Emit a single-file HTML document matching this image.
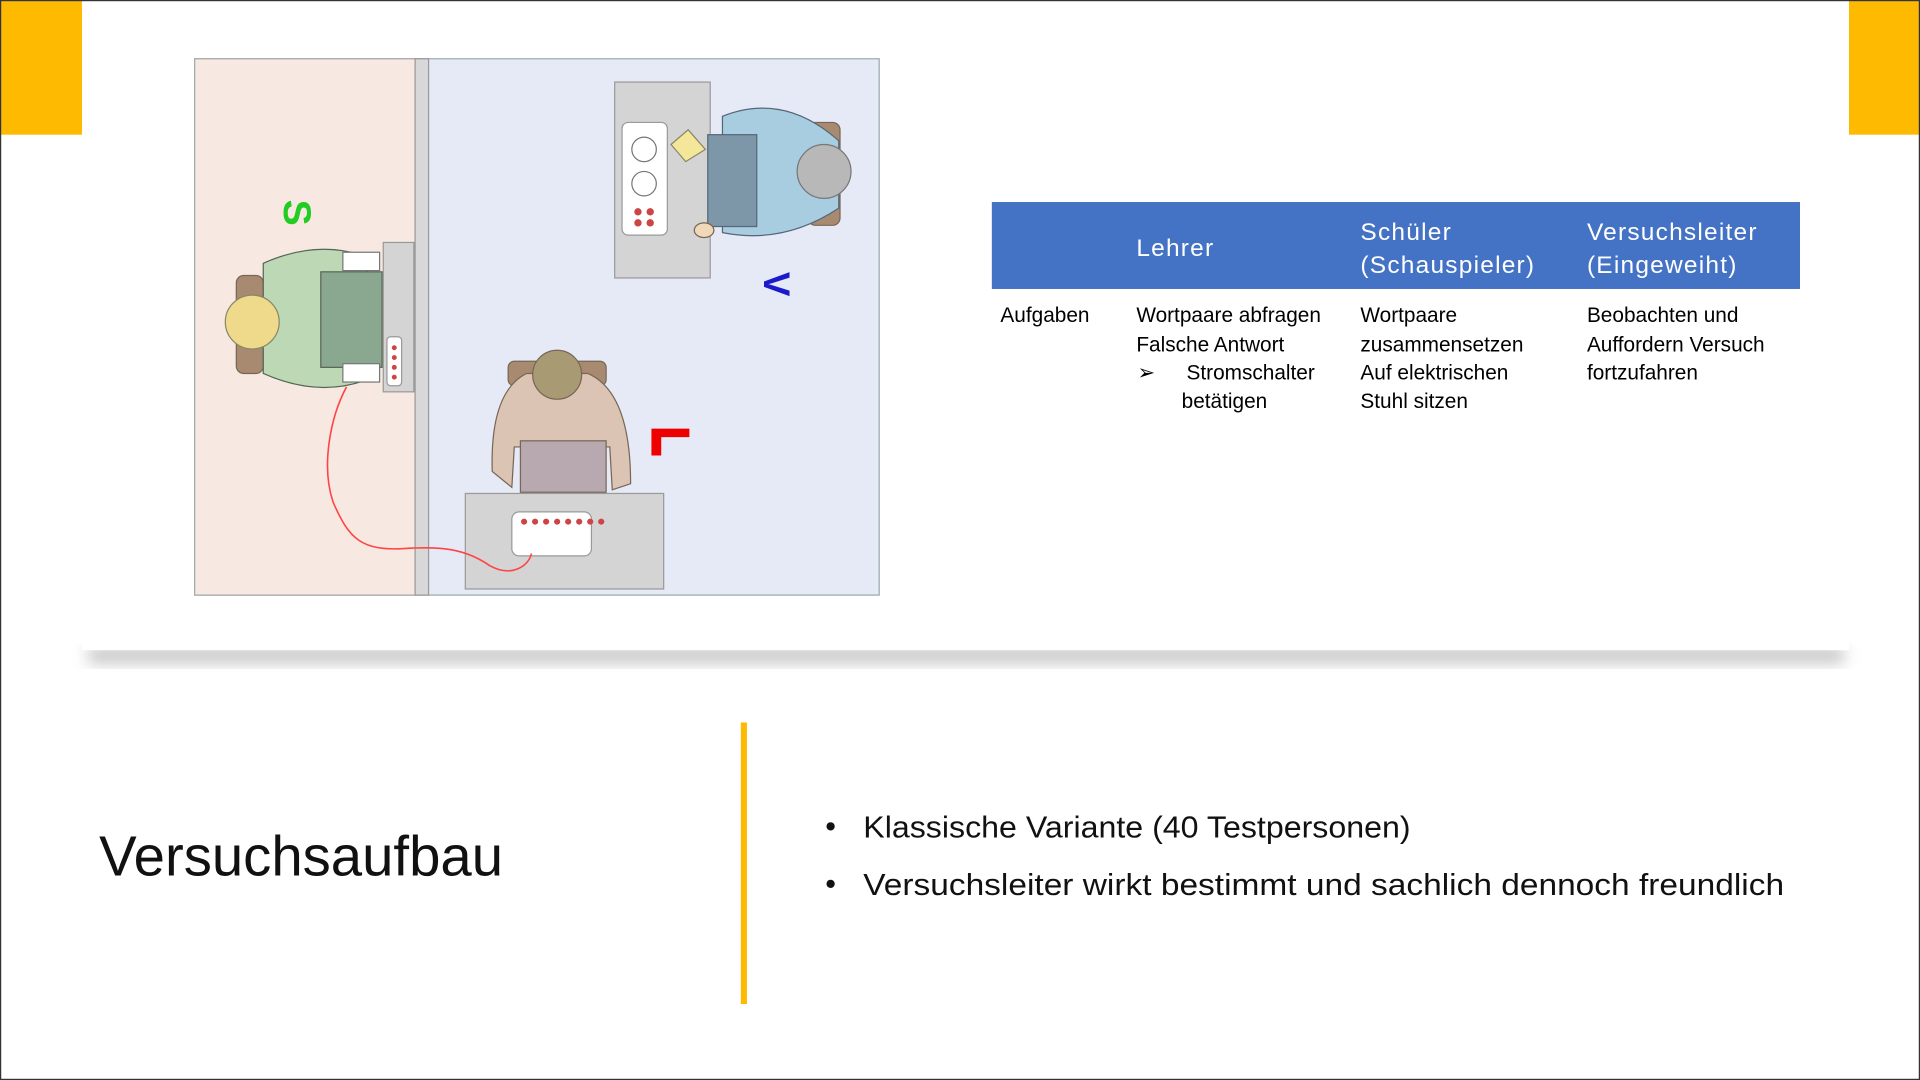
<!DOCTYPE html>
<html><head><meta charset="utf-8"><style>
html,body{margin:0;padding:0;background:#fff;}
svg{display:block;}
text{font-family:"Liberation Sans",sans-serif;}
</style></head><body>
<svg width="1920" height="1080" viewBox="0 0 1568 882" xmlns="http://www.w3.org/2000/svg">
<defs>
<filter id="sh" x="-5%" y="-20%" width="110%" height="150%"><feGaussianBlur stdDeviation="6"/></filter>
</defs>
<rect x="0" y="0" width="1568" height="882" fill="#fff"/>
<rect x="0" y="0" width="67" height="110" fill="#FDBA00"/>
<rect x="1510" y="0" width="58" height="110" fill="#FDBA00"/>
<rect x="72" y="528" width="1434" height="14" fill="#c8c8c8" filter="url(#sh)"/>
<rect x="67" y="0" width="1443" height="531" fill="#fff"/>
<rect x="0.5" y="0.5" width="1567" height="881" fill="none" stroke="#333" stroke-width="1"/>

<!-- illustration -->
<rect x="159" y="48" width="559" height="438" fill="#e6eaf7" stroke="#9aa" stroke-width="1"/>
<rect x="159" y="48" width="180" height="438" fill="#f7e9e2" stroke="#aaa" stroke-width="1"/>
<rect x="339" y="48" width="11" height="438" fill="#d8d8d8" stroke="#999" stroke-width="1"/>
<!-- V desk -->
<rect x="502" y="67" width="78" height="160" fill="#d4d4d4" stroke="#999"/>
<rect x="508" y="100" width="37" height="92" rx="5" fill="#fff" stroke="#999"/>
<circle cx="526" cy="122" r="10" fill="#fff" stroke="#777"/>
<circle cx="526" cy="150" r="10" fill="#fff" stroke="#777"/>
<circle cx="521" cy="173" r="3" fill="#c44"/><circle cx="531" cy="173" r="3" fill="#c44"/>
<circle cx="521" cy="182" r="3" fill="#c44"/><circle cx="531" cy="182" r="3" fill="#c44"/>
<!-- V person -->
<rect x="660" y="100" width="26" height="84" rx="6" fill="#a88a70" stroke="#765"/>
<path d="M590 95 Q640 75 685 115 L685 170 Q640 200 590 190 Z" fill="#a8cce0" stroke="#567"/>
<rect x="578" y="110" width="40" height="75" fill="#7d97a8" stroke="#567"/>
<circle cx="673" cy="140" r="22" fill="#b8b8b8" stroke="#777"/>
<polygon points="548,118 562,106 576,122 560,132" fill="#f5e79a" stroke="#886"/>
<ellipse cx="575" cy="188" rx="8" ry="6" fill="#f0d8b8" stroke="#765"/>
<text x="0" y="0" font-size="30" font-weight="bold" fill="#1a1acc" transform="translate(624,222) rotate(90)">V</text>
<!-- S desk -->
<rect x="313" y="198" width="25" height="122" fill="#d4d4d4" stroke="#999"/>
<rect x="316" y="275" width="12" height="40" rx="3" fill="#fff" stroke="#999"/>
<circle cx="322" cy="284" r="2" fill="#c44"/><circle cx="322" cy="292" r="2" fill="#c44"/><circle cx="322" cy="300" r="2" fill="#c44"/><circle cx="322" cy="308" r="2" fill="#c44"/>
<!-- S person -->
<rect x="193" y="225" width="22" height="80" rx="6" fill="#a88a70" stroke="#765"/>
<path d="M215 215 Q260 195 300 210 L300 310 Q260 325 215 305 Z" fill="#bcd8b4" stroke="#565"/>
<rect x="262" y="222" width="50" height="78" fill="#8aa890" stroke="#565"/>
<rect x="280" y="206" width="30" height="15" fill="#fff" stroke="#777"/>
<rect x="280" y="297" width="30" height="15" fill="#fff" stroke="#777"/>
<circle cx="206" cy="263" r="22" fill="#efd98a" stroke="#886"/>
<text x="0" y="0" font-size="32" font-weight="bold" fill="#22cc22" transform="translate(232,163) rotate(90)">S</text>
<!-- L desk -->
<rect x="380" y="403" width="162" height="78" fill="#d4d4d4" stroke="#999"/>
<rect x="418" y="418" width="65" height="36" rx="6" fill="#fff" stroke="#999"/>
<g fill="#c44"><circle cx="428" cy="426" r="2.5"/><circle cx="437" cy="426" r="2.5"/><circle cx="446" cy="426" r="2.5"/><circle cx="455" cy="426" r="2.5"/><circle cx="464" cy="426" r="2.5"/><circle cx="473" cy="426" r="2.5"/><circle cx="482" cy="426" r="2.5"/><circle cx="491" cy="426" r="2.5"/></g>
<!-- L person -->
<rect x="415" y="295" width="80" height="20" rx="5" fill="#a88a70" stroke="#765"/>
<path d="M402 385 Q400 320 430 305 L480 305 Q515 320 515 395 L500 400 L498 365 L420 365 L418 398 Z" fill="#dcc4b4" stroke="#765"/>
<rect x="425" y="360" width="70" height="42" fill="#b8a8b0" stroke="#765"/>
<circle cx="455" cy="306" r="20" fill="#a89a72" stroke="#765"/>
<path d="M532 350 L563 350 L563 357 L540 357 L540 372 L532 372 Z" fill="#e00"/>
<!-- wire -->
<path d="M283 316 C270 340 262 380 272 410 C285 440 295 450 330 448 C360 446 380 448 400 462 C418 472 432 462 434 452" fill="none" stroke="#f44" stroke-width="1.3"/>

<!-- table -->
<rect x="810" y="165" width="660" height="71" fill="#4472C4"/>
<g fill="#fff" font-size="20" letter-spacing="1">
<text x="928" y="209">Lehrer</text>
<text x="1111" y="196">Schüler</text><text x="1111" y="223">(Schauspieler)</text>
<text x="1296" y="196">Versuchsleiter</text><text x="1296" y="223">(Eingeweiht)</text>
</g>
<g fill="#000" font-size="17">
<text x="817" y="263">Aufgaben</text>
<text x="928" y="263">Wortpaare abfragen</text>
<text x="928" y="287">Falsche Antwort</text>
<text x="929" y="310">➢</text><text x="969" y="310">Stromschalter</text>
<text x="965" y="333">betätigen</text>
<text x="1111" y="263">Wortpaare</text>
<text x="1111" y="287">zusammensetzen</text>
<text x="1111" y="310">Auf elektrischen</text>
<text x="1111" y="333">Stuhl sitzen</text>
<text x="1296" y="263">Beobachten und</text>
<text x="1296" y="287">Auffordern Versuch</text>
<text x="1296" y="310">fortzufahren</text>
</g>

<!-- bottom -->
<rect x="605" y="590" width="5" height="230" fill="#FDBA00"/>
<text x="81" y="715" font-size="46" fill="#111">Versuchsaufbau</text>
<g font-size="25" fill="#111">
<text x="674" y="683">•</text><text x="705" y="684" textLength="447" lengthAdjust="spacingAndGlyphs">Klassische Variante (40 Testpersonen)</text>
<text x="674" y="730">•</text><text x="705" y="731" textLength="752" lengthAdjust="spacingAndGlyphs">Versuchsleiter wirkt bestimmt und sachlich dennoch freundlich</text>
</g>
</svg>
</body></html>
